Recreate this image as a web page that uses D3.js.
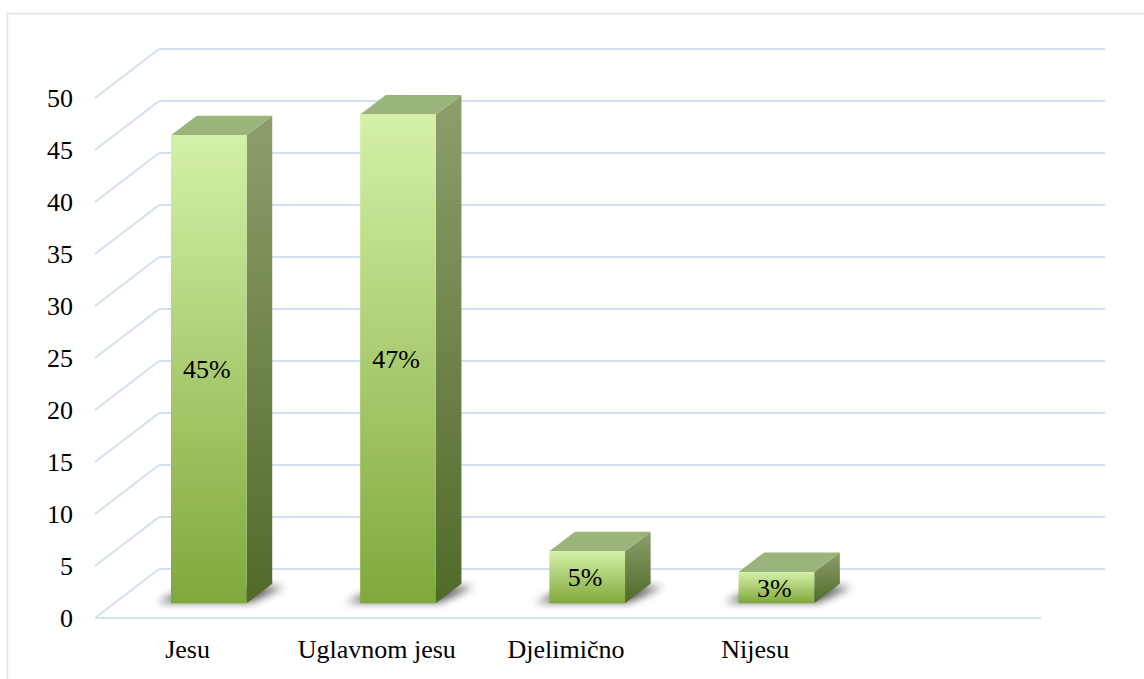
<!DOCTYPE html>
<html>
<head>
<meta charset="utf-8">
<script src="https://cdn.jsdelivr.net/npm/d3@7"></script>
<style>
  body { margin: 0; background: #fff; }
  svg { display: block; }
  svg text { font-family: "Liberation Serif", "Times New Roman", serif; font-size: 26px; }
</style>
</head>
<body>
<svg id="chart" width="1144" height="679"></svg>
<script>
var categories = ["Jesu", "Uglavnom jesu", "Djelimično", "Nijesu"];
var values = [45, 47, 5, 3];
var barLabels = ["45%", "47%", "5%", "3%"];
var yTicks = [0, 5, 10, 15, 20, 25, 30, 35, 40, 45, 50];

var svg = d3.select("#chart");

// depth of the 3d box (back wall offset) and where the bars sit in it
var depth = {dx: 64, dy: -49};
var barFront = 0.3, barBack = 0.7;

var x = d3.scaleBand()
  .domain(categories.concat([""]))   // empty fifth slot, as in the original
  .range([95, 1041])
  .paddingInner(0.6)
  .paddingOuter(0.3);

var y = d3.scaleLinear()
  .domain([0, 50])
  .range([618, 98]);

function proj(px, py, t) { return [px + t * depth.dx, py + t * depth.dy]; }

// outer frame
svg.append("rect")
  .attr("x", 7.5).attr("y", 13.5)
  .attr("width", 1200).attr("height", 700)
  .attr("fill", "none")
  .attr("stroke", "#d9e2ef")
  .attr("stroke-width", 1.5);

var defs = svg.append("defs");
var gFront = defs.append("linearGradient").attr("id", "gFront")
  .attr("x1", 0).attr("y1", 0).attr("x2", 0).attr("y2", 1);
gFront.append("stop").attr("offset", "0%").attr("stop-color", "#d5f0a8");
gFront.append("stop").attr("offset", "100%").attr("stop-color", "#80a83b");
var gSide = defs.append("linearGradient").attr("id", "gSide")
  .attr("x1", 0).attr("y1", 0).attr("x2", 0).attr("y2", 1);
gSide.append("stop").attr("offset", "0%").attr("stop-color", "#8d9e6c");
gSide.append("stop").attr("offset", "100%").attr("stop-color", "#516a29");
defs.append("filter").attr("id", "blur")
  .attr("x", "-50%").attr("y", "-50%").attr("width", "200%").attr("height", "200%")
  .append("feGaussianBlur").attr("stdDeviation", 4);

// gridlines: diagonal on the left wall + line on the back wall
var x0 = x.range()[0], x1 = x.range()[1];
var grid = svg.append("g")
  .attr("stroke", "#d2e0f1")
  .attr("stroke-width", 2)
  .attr("fill", "none");

grid.selectAll(".back")
  .data(yTicks)
  .enter().append("line")
    .attr("x1", x0 + depth.dx).attr("x2", x1 + depth.dx)
    .attr("y1", function(d) { return y(d) + depth.dy; })
    .attr("y2", function(d) { return y(d) + depth.dy; });

grid.selectAll(".side")
  .data(yTicks)
  .enter().append("line")
    .attr("x1", x0).attr("y1", function(d) { return y(d); })
    .attr("x2", x0 + depth.dx).attr("y2", function(d) { return y(d) + depth.dy; });

grid.append("line")
  .attr("x1", x0).attr("x2", x1)
  .attr("y1", y(0)).attr("y2", y(0));

// y axis labels
svg.append("g")
  .attr("text-anchor", "end")
  .selectAll("text")
  .data(yTicks)
  .enter().append("text")
    .attr("x", 73)
    .attr("y", function(d) { return y(d); })
    .attr("dy", "0.35em")
    .attr("fill", "#000")
    .text(function(d) { return d; });

// bars
var data = categories.map(function(c, i) { return {cat: c, value: values[i], label: barLabels[i]}; });
var bw = x.bandwidth();
var bd = barBack - barFront;

var bars = svg.append("g").selectAll("g")
  .data(data)
  .enter().append("g");

bars.each(function(d) {
  var g = d3.select(this);
  var fb = proj(x(d.cat), y(0), barFront);           // front-left-bottom
  var ft = proj(x(d.cat), y(d.value), barFront);     // front-left-top
  var xl = fb[0], xr = fb[0] + bw, yb = fb[1], yt = ft[1];
  var ox = bd * depth.dx, oy = bd * depth.dy;

  // shadow on the floor
  g.append("polygon")
    .attr("points", [[xl - 14, yb - 1], [xr + 4, yb - 1], [xr + ox + 12, yb + oy + 3], [xl + ox - 4, yb + oy + 3]].join(" "))
    .attr("fill", "#000")
    .attr("opacity", 0.65)
    .attr("filter", "url(#blur)");

  g.append("polygon")
    .attr("points", [[xr, yb], [xr, yt], [xr + ox, yt + oy], [xr + ox, yb + oy]].join(" "))
    .attr("fill", "url(#gSide)");

  g.append("polygon")
    .attr("points", [[xl, yt], [xr, yt], [xr + ox, yt + oy], [xl + ox, yt + oy]].join(" "))
    .attr("fill", "#9bb47b");

  g.append("rect")
    .attr("x", xl).attr("y", yt)
    .attr("width", bw).attr("height", yb - yt)
    .attr("fill", "url(#gFront)");

  g.append("text")
    .attr("x", xl + bw / 2 - 2)
    .attr("y", (yt + yb) / 2)
    .attr("dy", "0.35em")
    .attr("text-anchor", "middle")
    .attr("fill", "#000")
    .text(d.label);
});

// category labels
svg.append("g")
  .attr("text-anchor", "middle")
  .selectAll("text")
  .data(categories)
  .enter().append("text")
    .attr("x", function(d) { return x(d) + bw / 2 - 2; })
    .attr("y", 658)
    .attr("fill", "#000")
    .text(function(d) { return d; });
</script>
</body>
</html>
